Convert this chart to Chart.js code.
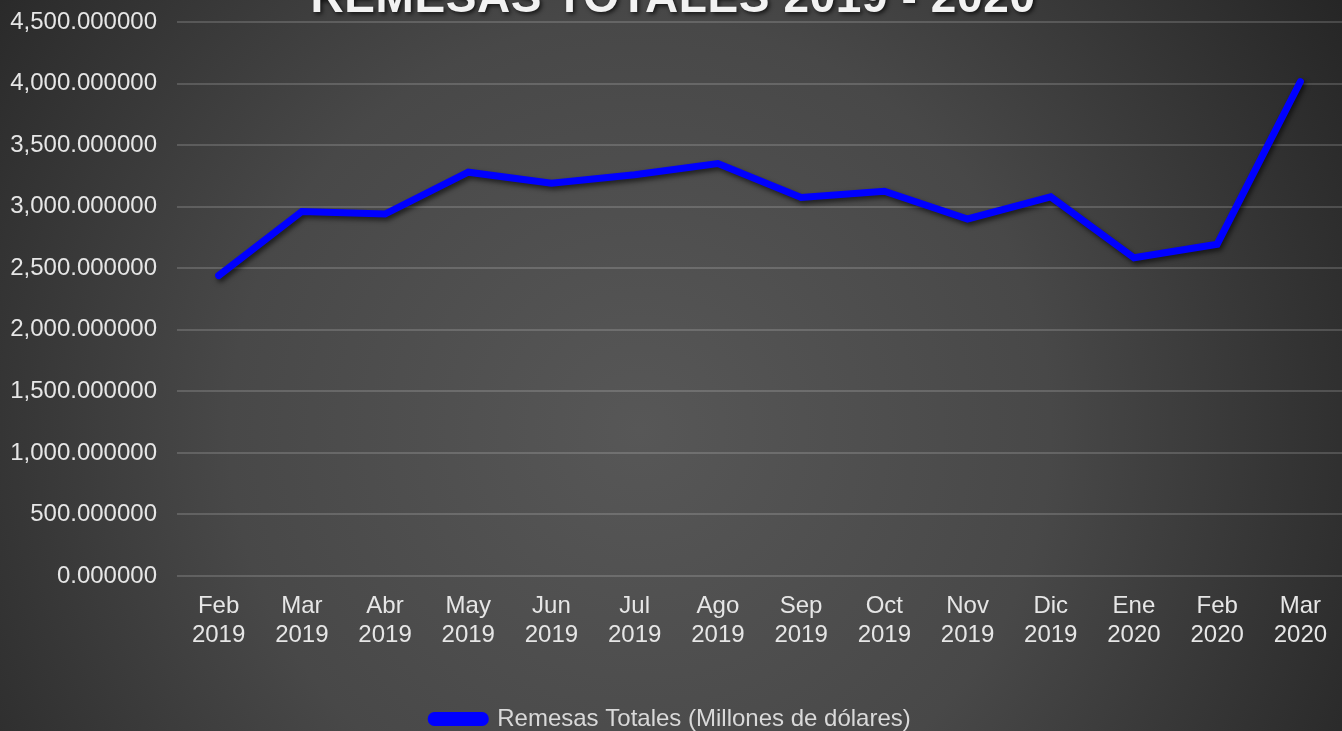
<!DOCTYPE html>
<html>
<head>
<meta charset="utf-8">
<script src="https://cdn.jsdelivr.net/npm/chart.js@4/dist/chart.umd.min.js"></script>
<style>
    html, body { margin: 0; padding: 0; background: #3a3a3a; }
    #contenedor { width: 1342px; height: 731px; }
</style>
</head>
<body>
<div id="contenedor"><canvas id="myChart"></canvas></div>
<script>
//Bloque donde se montan los datos
const meses = ['Feb', 'Mar', 'Abr', 'May', 'Jun', 'Jul', 'Ago', 'Sep', 'Oct', 'Nov', 'Dic', 'Ene', 'Feb', 'Mar'];
const anios = ['2019', '2019', '2019', '2019', '2019', '2019', '2019', '2019', '2019', '2019', '2019', '2020', '2020', '2020'];
const remesas = [2440, 2960, 2940, 3280, 3190, 3260, 3350, 3075, 3125, 2900, 3080, 2585, 2695, 4015];
const titulo = 'REMESAS TOTALES 2019 - 2020';
const serie = 'Remesas Totales (Millones de dólares)';

const etiquetas = meses.map((m, i) => [m, anios[i]]);

const data = {
    labels: etiquetas,
    datasets: [{
        label: serie,
        data: remesas,
        borderColor: '#0000ff',
        backgroundColor: '#0000ff',
        borderWidth: 7,
        borderCapStyle: 'round',
        borderJoinStyle: 'miter',
        pointRadius: 0,
        tension: 0
    }]
};

//Fondo con degradado radial
const fondo = {
    id: 'fondo',
    beforeDraw(chart) {
        const ctx = chart.ctx;
        const g = ctx.createRadialGradient(640, 430, 0, 640, 430, 820);
        g.addColorStop(0, '#575757');
        g.addColorStop(0.5, '#484848');
        g.addColorStop(1, '#262626');
        ctx.save();
        ctx.fillStyle = g;
        ctx.fillRect(0, 0, chart.width, chart.height);
        ctx.restore();
    }
};

//Sombra de la linea
const sombra = {
    id: 'sombra',
    beforeDatasetsDraw(chart) {
        const ctx = chart.ctx;
        ctx.save();
        ctx.shadowColor = 'rgba(0,0,0,0.6)';
        ctx.shadowBlur = 5;
        ctx.shadowOffsetX = 2;
        ctx.shadowOffsetY = 3;
    },
    afterDatasetsDraw(chart) {
        chart.ctx.restore();
    }
};

//Titulo (cortado arriba como en la imagen)
const tituloPlugin = {
    id: 'tituloPlugin',
    afterDraw(chart) {
        const ctx = chart.ctx;
        ctx.save();
        ctx.font = 'bold 46px "Liberation Sans", Arial, sans-serif';
        ctx.letterSpacing = '0.6px';
        ctx.textAlign = 'center';
        ctx.textBaseline = 'alphabetic';
        ctx.shadowColor = 'rgba(0,0,0,0.7)';
        ctx.shadowBlur = 4;
        ctx.shadowOffsetX = 2;
        ctx.shadowOffsetY = 2;
        ctx.fillStyle = '#f2f2f2';
        ctx.fillText(titulo, 673, 12);
        ctx.restore();
    }
};

const fuente = { family: '"Liberation Sans", Arial, sans-serif', size: 24 };

const options = {
    responsive: true,
    maintainAspectRatio: false,
    animation: false,
    layout: { padding: { top: 22, right: 0, bottom: -10, left: 0 } },
    plugins: {
        title: { display: false },
        tooltip: { enabled: false },
        legend: {
            position: 'bottom',
            labels: {
                color: '#d9d9d9',
                font: fuente,
                boxWidth: 54,
                boxHeight: 7,
                useBorderRadius: true,
                borderRadius: 3,
                padding: 0
            }
        }
    },
    scales: {
        x: {
            offset: true,
            grid: { display: false },
            border: { display: false },
            ticks: {
                color: '#e6e6e6',
                font: fuente,
                maxRotation: 0,
                autoSkip: false,
                padding: 8
            },
            afterFit(scale) { scale.height = 131; }
        },
        y: {
            min: 0,
            max: 4500,
            grid: {
                color: 'rgba(255,255,255,0.16)',
                lineWidth: 2,
                drawTicks: false
            },
            border: { display: false },
            ticks: {
                stepSize: 500,
                color: '#e6e6e6',
                font: fuente,
                padding: 20,
                callback: v => v.toLocaleString('en-US', { minimumFractionDigits: 6, maximumFractionDigits: 6 })
            },
            afterFit(scale) {
                scale.width = 177;
                scale.paddingTop = 0;
                scale.paddingBottom = 0;
            }
        }
    }
};

//Bloque de configuración
const config = {
    type: 'line',
    data,
    options,
    plugins: [fondo, sombra, tituloPlugin]
};

//Bloque de renderizado
const myChart = new Chart(document.getElementById('myChart').getContext('2d'), config);
</script>
</body>
</html>
